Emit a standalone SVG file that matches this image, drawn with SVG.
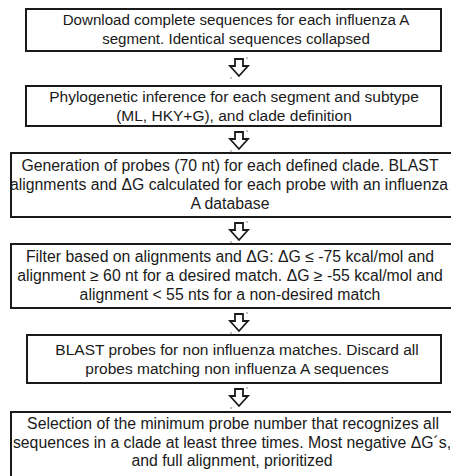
<svg xmlns="http://www.w3.org/2000/svg" width="451" height="476" viewBox="0 0 451 476">
<defs>
<style>
.box{fill:#fff;stroke:#1a1a1a;stroke-width:2}
.t{font-family:"Liberation Sans",Arial,sans-serif;font-size:15.5px;fill:#1a1a1a;text-anchor:middle}
.w{font-size:15.8px}
.arr{fill:#fff;stroke:#1a1a1a;stroke-width:1.8;stroke-linejoin:miter}
.dot{fill:#555}
</style>
<path id="arrow" class="arr" d="M-4,0 H4 V7 H9 L0,17 L-9,7 H-4 Z"/>
</defs>
<rect width="451" height="476" fill="#fff"/>
<g id="connectors">
<g transform="translate(239,59)"><use href="#arrow"/><circle class="dot" cx="8" cy="-1" r="0.7"/><circle class="dot" cx="-8" cy="19" r="0.7"/></g>
<g transform="translate(239,132)"><use href="#arrow"/><circle class="dot" cx="8" cy="-1" r="0.7"/><circle class="dot" cx="-8" cy="19" r="0.7"/></g>
<g transform="translate(239,223)"><use href="#arrow"/><circle class="dot" cx="8" cy="-1" r="0.7"/><circle class="dot" cx="-8" cy="19" r="0.7"/></g>
<g transform="translate(239,314)"><use href="#arrow"/><circle class="dot" cx="8" cy="-1" r="0.7"/><circle class="dot" cx="-8" cy="19" r="0.7"/></g>
<g transform="translate(239,389)"><use href="#arrow"/><circle class="dot" cx="8" cy="-1" r="0.7"/><circle class="dot" cx="-8" cy="19" r="0.7"/></g>
</g>
<g id="n1">
<rect class="box" x="26" y="9" width="415" height="42"/>
<text class="t" x="236" y="25" style="font-size:15.1px">Download complete sequences for each influenza A</text>
<text class="t" x="236" y="44" style="font-size:15.1px">segment. Identical sequences collapsed</text>
</g>
<g id="n2">
<rect class="box" x="26" y="86" width="415" height="40"/>
<text class="t" x="234" y="102">Phylogenetic inference for each segment and subtype</text>
<text class="t" x="234" y="121">(ML, HKY+G), and clade definition</text>
</g>
<g id="n3">
<rect class="box" x="11" y="153" width="445" height="64"/>
<text class="t w" x="230" y="171">Generation of probes (70 nt) for each defined clade. BLAST</text>
<text class="t w" x="229" y="190">alignments and ΔG calculated for each probe with an influenza</text>
<text class="t w" x="230" y="209">A database</text>
</g>
<g id="n4">
<rect class="box" x="11" y="244" width="445" height="64"/>
<text class="t w" x="230" y="262">Filter based on alignments and ΔG: ΔG ≤ -75 kcal/mol and</text>
<text class="t w" x="230" y="281">alignment ≥ 60 nt for a desired match. ΔG ≥ -55 kcal/mol and</text>
<text class="t w" x="230" y="300">alignment &lt; 55 nts for a non-desired match</text>
</g>
<g id="n5">
<rect class="box" x="27" y="335" width="414" height="48"/>
<text class="t" x="237" y="355">BLAST probes for non influenza matches. Discard all</text>
<text class="t" x="237" y="374">probes matching non influenza A sequences</text>
</g>
<g id="n6">
<rect class="box" x="11" y="412" width="445" height="70"/>
<text class="t w" x="233" y="429">Selection of the minimum probe number that recognizes all</text>
<text class="t w" x="232" y="448">sequences in a clade at least three times. Most negative ΔG´s,</text>
<text class="t w" x="232" y="466">and full alignment, prioritized</text>
</g>
</svg>
